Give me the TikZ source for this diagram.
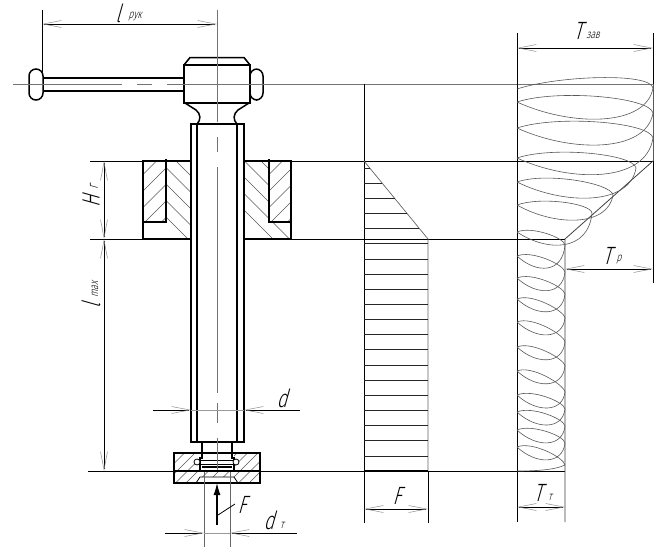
\documentclass[tikz,border=0pt]{standalone}
\usepackage{fontspec}
\usetikzlibrary{arrows.meta}
\newfontfamily\gost[FakeSlant=0.28,FakeStretch=0.72]{Fira Sans Light}
\tikzset{
  contour/.style={line width=1.5pt,black},
  heavy/.style={line width=2.3pt,black},
  thinline/.style={line width=.8pt,black},
  axis/.style={line width=.9pt,black!55},
  hatchline/.style={line width=.55pt,black!65},
  spiral/.style={line width=.6pt,black!65},
  dimtip/.tip={Straight Barb[length=18pt,width=7pt,line width=.5pt,color=black!45]},
  dim/.style={thinline,{dimtip}-{dimtip}},
  outin/.style={thinline,-{dimtip}},
  big/.style={font=\gost\fontsize{25}{25}\selectfont,inner sep=0pt},
  small/.style={font=\gost\fontsize{12}{12}\selectfont,inner sep=0pt}
}
\begin{document}
\begin{tikzpicture}[x=1pt,y=-1pt]
\useasboundingbox[fill=white] (0,0) rectangle (662,552);

% ---- long reference lines
\draw[axis] (13,84) -- (122,84) (137,84) -- (152,84) (167,84) -- (653,84);
\draw[thinline] (90,161) -- (143,161) (291,161) -- (653,161);
\draw[thinline] (90,239) -- (143,239) (291,239) -- (565,239);
\draw[thinline] (88,471) -- (565,471);

% ---- hatching of the nut and bush
\begin{scope}
  \clip (143,161) rectangle (166,222);
  \foreach \k in {0,...,8}{\draw[hatchline] ({60+\k*16.5},241) -- ++(100,-100);}
\end{scope}
\begin{scope}
  \clip (269,161) rectangle (291,222);
  \foreach \k in {0,...,8}{\draw[hatchline] ({186+\k*16.5},241) -- ++(100,-100);}
\end{scope}
\begin{scope}
  \clip (166,161) -- (190,161) -- (190,239) -- (143,239) -- (143,222) -- (166,222) -- cycle;
  \foreach \k in {0,...,9}{\draw[hatchline] ({90+\k*16.5},141) -- ++(100,100);}
\end{scope}
\begin{scope}
  \clip (244,161) -- (269,161) -- (269,222) -- (291,222) -- (291,239) -- (244,239) -- cycle;
  \foreach \k in {0,...,9}{\draw[hatchline] ({175+\k*16.5},141) -- ++(100,100);}
\end{scope}
\draw[contour] (190,161) -- (143,161) -- (143,239) -- (190,239);
\draw[contour] (244,161) -- (291,161) -- (291,239) -- (244,239);
\draw[contour] (143,222) -- (166,222);
\draw[contour] (291,222) -- (269,222);
\draw[heavy] (166,159) -- (166,223);
\draw[heavy] (269,159) -- (269,223);

% ---- screw
\draw[contour] (191,124) -- (191,442) -- (244,442) -- (244,124) -- cycle;
\draw[contour] (197,124) -- (197,442) (237,124) -- (237,442);
\draw[contour] (202,442) -- (202,458) (232,442) -- (232,458);

% ---- head and handle
\draw[contour,rounded corners=7pt,fill=white] (29,69) rectangle (43,100);
\draw[contour,rounded corners=7pt,fill=white] (250,69) rectangle (263,100);
\draw[contour] (43,78) -- (184,78) (43,91) -- (184,91);
\draw[contour,fill=white] (184,65) rectangle (250,103);
\draw[contour] (184,65) -- (190,57.5) -- (244,57.5) -- (250,65);
\draw[contour] (185,103) -- (196,110) .. controls (201,114) and (201,120) .. (197,124);
\draw[contour] (249,103) -- (238,110) .. controls (233,114) and (233,120) .. (237,124);
\draw[axis] (13,84) -- (122,84) (137,84) -- (152,84) (167,84) -- (300,84);

% ---- foot
\begin{scope}
  \clip (174,453) rectangle (260,483);
  \foreach \k in {0,...,14}{\draw[hatchline] ({134+\k*10.5},493) -- ++(50,-50);}
\end{scope}
\fill[white] (200,453) rectangle (234,471);
\fill[white] (202,483.5) -- (196,483.5) -- (200,477) -- (234,477) -- (238,483.5) -- cycle;
\draw[contour] (174,453) rectangle (260,483);
\draw[contour] (202,453) -- (202,458) -- (200,458) -- (200,471) -- (234,471) -- (234,458) -- (232,458) -- (232,453);
\fill[white] (203,454) rectangle (231,459);
\draw[thinline] (200,460) -- (234,460) (200,464) -- (234,464);
\draw[contour] (202,467) -- (232,467);
\draw[thinline,fill=white] (197,462) circle (3pt) (236,462) circle (3pt);
\draw[thinline] (196,483) -- (200,477) -- (234,477) -- (238,483);
\draw[contour] (174,471.2) -- (260,471.2);

% ---- axes and thrust arrow
\draw[axis] (217,10) -- (217,122) (217,137) -- (217,152) (217,167) -- (217,393)
  (217,403) -- (217,423) (217,438) -- (217,470);
\draw[line width=.9pt,black!60] (204,472) -- (204,547) (230,472) -- (230,547);
\draw[line width=1.1pt,-{Latex[length=12pt,width=7pt]}] (217,525) -- (217,483);

% ---- left dimensions
\draw[thinline] (42,10) -- (42,72);
\draw[dim] (42,24) -- (217,24);
\draw[dim] (104,161) -- (104,239);
\draw[dim] (104,239) -- (104,471);
\draw[line width=.4pt,black!40] (191,410) -- (244,410) (204,533) -- (230,533);
\draw[outin] (153,410) -- (191,410);
\draw[outin] (300,410) -- (244,410);
\draw[outin] (165,533) -- (204,533);
\draw[outin] (297,533) -- (230,533);
\draw[thinline] (218,515) -- (235,504);

% ---- force diagram
\draw[thinline] (364,84) -- (364,523);
\draw[thinline] (428,471) -- (428,523);
\draw[line width=.7pt,black!60] (364,161) -- (428,239) -- (428,471);
\foreach \i in {0,...,20}{
  \pgfmathsetmacro{\yy}{168+15.15*\i}
  \pgfmathsetmacro{\xx}{min(428,364+(\yy-161)*0.8205)}
  \draw[line width=.7pt,black!85] (364,\yy) -- (\xx,\yy);
}
\draw[contour] (364,471) -- (428,471);
\draw[dim] (364,509) -- (428,509);

% ---- torque diagram
\draw[thinline] (517,33) -- (517,522);
\draw[thinline] (653,33) -- (653,283);
\draw[line width=.8pt,black!65] (653,84) -- (653,161);
\draw[line width=.8pt,black!75] (653,161) -- (565,239) -- (565,522);
\draw[dim] (517,48) -- (653,48);
\draw[dim] (565,269) -- (653,269);
\draw[dim] (517,507) -- (565,507);
% helix: left turn, right turn x/y, next left turn
\foreach \La/\Rx/\Ry/\Lb in {
  89/653/88/102, 102/653/113/128, 128/653/138/158, 158/636/168/182, 182/613/195/205,
  205/592/213/232, 232/565/245/256, 256/565/272/278, 278/565/294/299, 299/565/318/322,
  322/565/342/347, 347/565/366/371, 371/565/392/395, 395/565/409/412, 412/565/426/430,
  430/565/443/447, 447/565/465/471}{
  \pgfmathsetmacro{\wid}{\Rx-517}
  \pgfmathsetmacro{\bul}{3+\wid*0.1}
  \pgfmathsetmacro{\low}{14+\wid*0.08}
  \draw[spiral] (517,\La) .. controls ({517+.3*\wid},{\La-\bul*.8}) and ({\Rx-.02*\wid},{\Ry-\bul*.95}) .. (\Rx,\Ry);
  \ifnum\Lb=471
    \draw[spiral] (\Rx,\Ry) .. controls (555,470) and (535,471) .. (517,471);
  \else
    \draw[spiral] (\Rx,\Ry) .. controls ({\Rx-.05*\wid},{\Lb+\low}) and ({517+.4*\wid},{\Lb+\low}) .. (517,\Lb);
  \fi
}

% ---- labels
\node[big]   (lab1)  at (118,13)  {l};
\node[small] (lab2)  at (135,17)  {рук};
\node[big,rotate=90] (lab3) at (91,201) {H};
\node[small,rotate=90] (lab4) at (94,187) {\fontsize{15}{15}\selectfont г};
\node[big,rotate=90] (lab5) at (91,306) {l};
\node[small,rotate=90] (lab6) at (95,290) {max};
\node[big]   (lab7)  at (282,398) {d};
\node[big]   (lab8)  at (242,505) {F};
\node[big]   (lab9)  at (269,520) {d};
\node[small] (lab10) at (282,525) {т};
\node[big]   (lab11) at (397,496) {F};
\node[big]   (lab12) at (538,493) {T};
\node[small] (lab13) at (550,497) {т};
\node[big]   (lab14) at (607,256) {T};
\node[small] (lab15) at (619,260) {р};
\node[big]   (lab16) at (578,31)  {T};
\node[small] (lab17) at (593,35)  {зав};
\end{tikzpicture}
\end{document}
